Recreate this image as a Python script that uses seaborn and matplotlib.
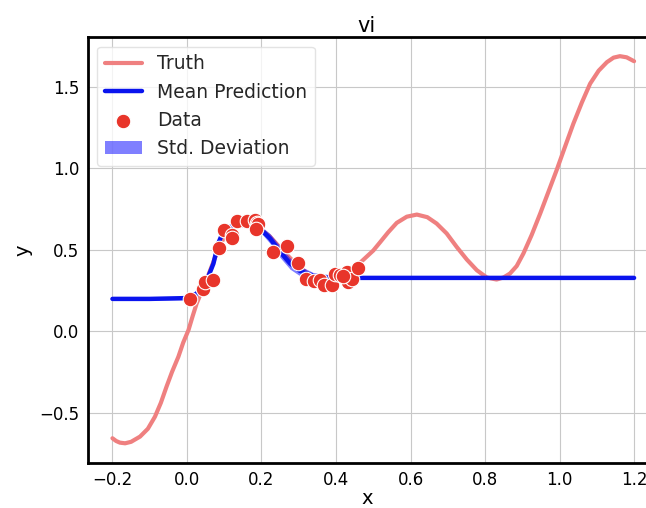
import numpy as np
import pandas as pd
import matplotlib
matplotlib.use("Agg")
import matplotlib.pyplot as plt
import seaborn as sns

truth_x = [-0.2, -0.19, -0.18, -0.166, -0.15, -0.126, -0.105, -0.086, -0.07, -0.055,
           -0.04, -0.023, -0.01, 0.004, 0.015, 0.026, 0.05, 0.075, 0.1, 0.13,
           0.16, 0.19, 0.223, 0.255, 0.285, 0.32, 0.36, 0.40, 0.43, 0.46,
           0.5, 0.518, 0.54, 0.563, 0.59, 0.617, 0.645, 0.67, 0.697, 0.724,
           0.751, 0.778, 0.805, 0.831, 0.85, 0.867, 0.885, 0.903, 0.925, 0.948,
           0.97, 0.992, 1.015, 1.037, 1.06, 1.082, 1.105, 1.127, 1.145, 1.162,
           1.18, 1.2]
truth_y = [-0.658, -0.675, -0.685, -0.689, -0.68, -0.648, -0.60, -0.526, -0.44, -0.342,
           -0.25, -0.157, -0.07, 0.006, 0.09, 0.17, 0.30, 0.45, 0.58, 0.64,
           0.66, 0.64, 0.58, 0.50, 0.43, 0.36, 0.31, 0.30, 0.335, 0.41,
           0.495, 0.545, 0.607, 0.665, 0.703, 0.716, 0.70, 0.661, 0.60, 0.517,
           0.44, 0.374, 0.329, 0.317, 0.33, 0.354, 0.40, 0.477, 0.59, 0.722,
           0.855, 0.988, 1.135, 1.274, 1.405, 1.52, 1.60, 1.652, 1.68, 1.689,
           1.682, 1.658]

mean_x = [-0.2, -0.1, 0.0, 0.026, 0.053, 0.071, 0.084, 0.1, 0.124, 0.15,
          0.169, 0.196, 0.223, 0.25, 0.277, 0.303, 0.339, 0.38, 0.42, 0.46,
          0.6, 0.8, 1.0, 1.2]
mean_y = [0.198, 0.198, 0.203, 0.231, 0.31, 0.415, 0.54, 0.625, 0.648, 0.652,
          0.648, 0.63, 0.569, 0.487, 0.415, 0.37, 0.34, 0.331, 0.328, 0.327,
          0.327, 0.327, 0.327, 0.327]
std_y = [0.008, 0.008, 0.01, 0.012, 0.012, 0.012, 0.012, 0.012, 0.012, 0.012,
         0.015, 0.02, 0.03, 0.035, 0.035, 0.03, 0.02, 0.012, 0.01, 0.008,
         0.008, 0.008, 0.008, 0.008]

data_x = [0.008, 0.044, 0.048, 0.069, 0.087, 0.100, 0.120, 0.122, 0.133, 0.162,
          0.183, 0.187, 0.191, 0.184, 0.230, 0.268, 0.299, 0.319, 0.341, 0.357,
          0.369, 0.388, 0.397, 0.411, 0.429, 0.433, 0.442, 0.460, 0.420]
data_y = [0.198, 0.258, 0.303, 0.313, 0.511, 0.620, 0.589, 0.569, 0.677, 0.677,
          0.681, 0.667, 0.656, 0.630, 0.487, 0.521, 0.421, 0.319, 0.307, 0.313,
          0.286, 0.282, 0.354, 0.344, 0.364, 0.303, 0.323, 0.385, 0.337]

sns.set_theme(style="whitegrid")
plt.rcParams['font.family'] = ['DejaVu Sans']

fig = plt.figure(figsize=(6.46, 5.08), dpi=100)
ax = fig.add_axes([0.136, 0.0886, 0.864, 0.838])

truth_df = pd.DataFrame({"x": truth_x, "y": truth_y})
mean_df = pd.DataFrame({"x": mean_x, "y": mean_y})
data_df = pd.DataFrame({"x": data_x, "y": data_y})

sns.lineplot(data=truth_df, x="x", y="y", ax=ax, color="#ef8080", lw=3,
             label="Truth", sort=False, zorder=2)
mx = np.array(mean_x); my = np.array(mean_y); sd = np.array(std_y)
ax.fill_between(mx, my - sd, my + sd, color="#0000ff", alpha=0.5, lw=0,
                label="Std. Deviation", zorder=3)
sns.lineplot(data=mean_df, x="x", y="y", ax=ax, color="#0a14ee", lw=3.2,
             label="Mean Prediction", sort=False, zorder=4)
sns.scatterplot(data=data_df, x="x", y="y", ax=ax, color="#e8352a", s=110,
                edgecolor="white", linewidth=0.8, label="Data", zorder=5)

ax.set_xlim(-0.266, 1.232)
ax.set_ylim(-0.81, 1.805)
ax.set_xticks([-0.2, 0.0, 0.2, 0.4, 0.6, 0.8, 1.0, 1.2])
ax.set_yticks([-0.5, 0.0, 0.5, 1.0, 1.5])
ax.grid(True, color="#c8c8c8", lw=0.8)
for s in ["left", "top", "bottom"]:
    ax.spines[s].set_color("black")
    ax.spines[s].set_linewidth(2)
ax.spines["right"].set_visible(False)
ax.tick_params(axis="both", which="major", labelsize=12, length=3, width=0.8,
               color="#c8c8c8", direction="out", labelcolor="black", pad=3)
ax.set_xlabel("x", fontsize=14, color="black", labelpad=0)
ax.set_ylabel("y", fontsize=14, color="black", labelpad=5)
ax.set_title("vi", fontsize=15, color="black", pad=4)

handles, labels = ax.get_legend_handles_labels()
order = ["Truth", "Mean Prediction", "Data", "Std. Deviation"]
hmap = dict(zip(labels, handles))
leg = ax.legend([hmap[k] for k in order], order, loc="upper left", fontsize=13.5,
                frameon=True, borderaxespad=0.5, handlelength=2.0)
leg.get_frame().set_edgecolor("#dddddd")

fig.savefig("out.png", dpi=100)
